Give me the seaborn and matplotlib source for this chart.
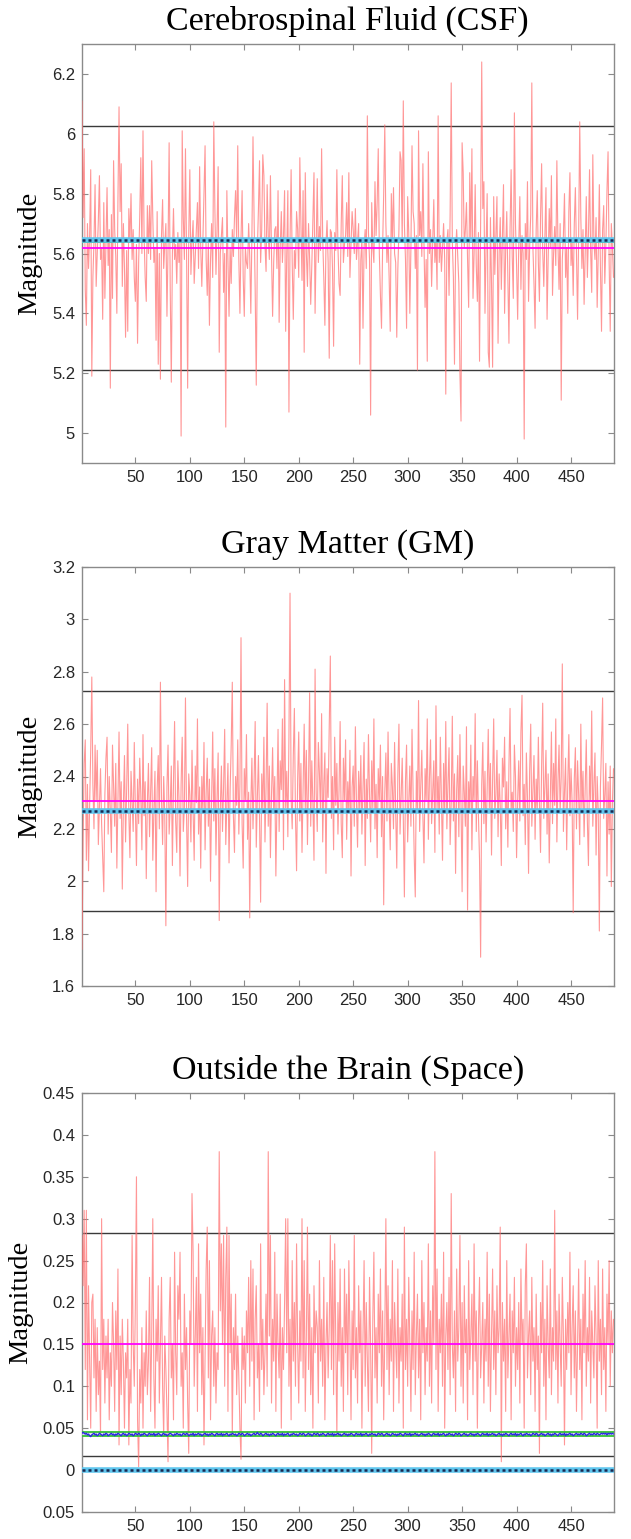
import numpy as np
import pandas as pd
import matplotlib
matplotlib.use("Agg")
import matplotlib.pyplot as plt
import seaborn as sns
from matplotlib.ticker import FixedLocator, FixedFormatter

# ---------------- data ----------------
csf_values = [
6.11,5.72,5.95,5.48,5.36,5.70,5.55,5.66,5.88,5.19,
5.52,5.64,5.83,5.49,5.60,5.71,5.86,5.58,5.62,5.38,
5.77,5.45,5.63,5.82,5.56,5.68,5.15,5.73,5.45,5.91,
5.68,5.59,5.40,5.78,6.09,5.74,5.90,5.49,5.70,5.55,
5.32,5.61,5.34,5.75,5.64,5.80,5.58,5.68,5.52,5.44,
5.63,5.30,5.57,5.72,5.92,5.60,6.01,5.66,5.52,5.44,
5.76,5.60,5.76,5.58,5.91,5.72,5.57,5.62,5.31,5.74,
5.23,5.60,5.18,5.66,5.78,5.55,5.63,5.70,5.39,5.62,
5.97,5.48,5.17,5.60,5.75,5.58,5.63,5.50,5.67,5.57,
5.64,4.99,6.01,5.72,5.58,5.95,5.60,5.15,5.66,5.88,
5.53,5.64,5.71,5.50,5.59,5.68,5.77,5.55,5.89,5.62,
5.49,5.64,5.80,5.96,5.58,5.46,5.64,5.36,5.58,5.70,
5.52,6.04,5.75,5.53,5.68,5.89,5.27,5.60,5.66,5.72,
5.47,5.60,5.02,5.81,5.58,5.39,5.62,5.50,5.68,5.59,
5.72,5.81,5.64,5.96,5.58,5.40,5.65,5.81,5.52,5.39,
5.62,5.57,5.55,5.70,5.59,5.40,5.66,5.99,5.72,5.48,
5.16,5.61,5.75,5.91,5.57,5.68,5.93,5.86,5.63,5.54,
5.83,5.66,5.58,5.86,5.60,5.39,5.57,5.68,5.69,5.55,
5.81,5.37,5.62,5.74,5.57,5.66,5.81,5.34,5.60,5.81,
5.07,5.64,5.88,5.57,5.38,5.61,5.55,5.74,5.68,5.52,
5.92,5.70,5.51,5.81,5.27,5.87,5.60,5.49,5.70,5.58,
5.43,5.56,5.72,5.87,5.40,5.63,5.85,5.57,5.69,5.61,
5.95,5.65,5.52,5.36,5.63,5.71,5.57,5.25,5.68,5.67,
5.55,5.29,5.67,5.61,5.88,5.62,5.50,5.46,5.70,5.86,
5.57,5.63,5.66,5.77,5.59,5.87,5.52,5.63,5.74,5.68,
5.60,5.75,5.58,5.64,5.70,5.23,5.58,5.65,5.35,5.62,
5.68,5.55,6.06,5.67,5.58,5.06,5.77,5.62,5.57,5.84,
5.66,5.77,5.95,5.60,5.46,5.35,5.62,5.80,6.03,5.70,
5.57,5.66,5.52,5.34,5.80,5.64,5.82,5.60,5.57,5.32,
5.55,5.68,5.94,5.91,5.64,6.11,5.70,5.58,5.35,5.79,
5.67,5.40,5.62,5.96,5.74,5.70,5.55,5.66,5.21,6.01,
5.66,5.74,5.59,5.90,5.63,5.42,5.58,5.24,5.94,5.60,
5.68,5.49,5.63,5.78,5.57,5.65,5.48,6.06,5.57,5.66,
5.54,5.62,5.70,5.58,5.13,5.64,5.68,5.46,5.73,6.17,
5.64,5.52,5.23,5.61,5.68,5.59,5.50,5.20,5.04,5.97,
5.87,5.62,5.68,5.77,5.58,5.42,5.87,5.64,5.95,5.45,
5.60,5.83,5.56,5.44,5.67,5.24,5.70,6.24,5.75,5.84,
5.40,5.62,5.80,5.27,5.22,5.72,5.50,5.22,5.79,5.53,
5.66,5.79,5.30,5.60,5.72,5.48,5.66,5.83,5.40,5.61,
5.74,5.52,5.30,5.68,5.88,5.59,5.45,6.07,5.70,5.56,
5.38,5.63,5.79,5.48,5.66,5.60,4.98,5.70,5.58,5.84,
5.44,5.62,5.73,6.17,5.62,5.50,5.35,5.68,5.81,5.57,
5.44,5.72,5.90,5.61,5.49,5.66,5.82,5.38,5.58,5.75,
5.62,5.86,5.46,5.60,5.69,5.56,5.91,5.63,5.48,5.70,
5.11,5.58,5.66,5.80,5.52,5.62,5.40,5.74,5.87,5.56,
5.64,5.46,5.70,5.82,5.59,5.38,5.66,6.04,5.72,5.55,
5.68,5.43,5.60,5.79,5.52,5.66,5.88,5.61,5.47,5.93,
5.64,5.58,5.72,5.42,5.60,5.83,5.55,5.34,5.68,5.76,
5.50,5.63,5.81,5.94,5.57,5.34,5.70,5.62,5.52]

gm_values = [
1.74,2.16,2.45,2.54,2.08,2.37,2.04,2.29,2.50,2.78,
2.37,2.20,2.52,2.31,2.50,2.14,2.28,2.43,2.22,2.09,
1.96,2.33,2.47,2.55,2.18,2.40,2.27,2.11,2.52,2.36,
2.21,2.45,2.05,2.30,2.57,2.24,2.38,1.97,2.29,2.48,
2.15,2.35,2.60,2.26,2.09,2.42,2.31,2.19,2.53,2.28,
2.06,2.39,2.22,2.47,2.33,2.12,2.56,2.25,2.38,2.01,
2.30,2.45,2.17,2.34,2.51,2.08,2.27,2.42,1.96,2.35,
2.48,2.20,2.76,2.31,2.14,2.40,2.25,1.83,2.36,2.52,
2.18,2.29,2.44,2.06,2.38,2.61,2.23,2.11,2.46,2.32,
2.02,2.37,2.55,2.19,2.28,2.70,2.24,1.98,2.41,2.33,
2.15,2.50,2.27,2.08,2.44,2.30,2.62,2.18,2.36,2.05,
2.40,2.26,2.53,2.12,2.34,2.47,2.21,2.39,2.00,2.31,
2.57,2.23,2.43,2.10,2.32,2.49,1.85,2.28,2.44,2.19,
2.36,2.58,2.14,2.30,2.45,2.07,2.35,2.52,2.76,2.25,
2.11,2.40,2.29,2.54,2.18,2.37,2.93,2.22,2.05,2.43,
2.31,2.56,2.16,2.34,1.86,2.29,2.47,2.20,2.38,2.61,
2.13,2.32,2.48,2.24,1.92,2.41,2.27,2.55,2.15,2.36,
2.68,2.21,2.44,2.09,2.33,2.51,2.26,2.40,2.02,2.30,
2.58,2.19,2.46,2.35,2.62,2.12,2.77,2.28,2.42,2.17,
2.55,3.10,2.32,2.20,2.48,2.66,2.25,2.04,2.39,2.57,
2.23,2.45,2.11,2.36,2.60,2.27,2.50,2.14,2.38,2.72,
2.21,2.46,2.30,2.08,2.81,2.34,2.19,2.53,2.41,2.26,
2.64,2.15,2.37,2.49,2.03,2.43,2.32,2.58,2.86,2.24,
2.40,2.12,2.55,2.29,2.45,2.18,2.35,2.61,2.22,2.09,
2.47,2.31,2.54,2.16,2.38,2.26,2.50,2.02,2.36,2.44,
2.21,2.59,2.30,2.13,2.42,2.27,2.48,2.18,2.35,2.53,
2.06,2.39,2.24,2.56,2.33,2.15,2.46,2.28,2.62,2.20,
2.37,2.09,2.43,2.31,2.52,2.17,2.40,1.91,2.34,2.49,
2.23,2.57,2.29,2.12,2.45,2.36,2.20,2.53,2.27,2.05,
2.41,2.60,2.18,2.33,2.47,2.24,1.94,2.38,2.52,2.15,
2.30,2.44,2.21,2.58,2.35,2.10,1.94,2.42,2.27,2.69,
2.19,2.36,2.50,2.25,2.07,2.43,2.31,2.62,2.16,2.39,
2.54,2.22,2.34,2.46,2.11,2.67,2.28,2.40,2.18,2.55,
2.32,2.08,2.45,2.26,2.61,2.20,2.37,2.51,2.14,2.30,
2.63,2.23,2.41,2.03,2.35,2.48,2.17,2.56,2.29,1.96,
2.44,2.34,2.21,2.59,1.89,2.38,2.27,2.52,2.12,2.40,
2.31,2.64,2.19,2.46,2.25,2.08,1.71,2.37,2.53,2.22,
2.42,2.15,2.35,2.58,2.28,2.45,2.10,2.39,2.62,2.24,
2.33,2.50,2.17,2.41,2.29,2.06,2.47,2.36,2.55,2.20,
2.38,2.13,2.44,2.66,2.27,2.34,2.19,2.52,2.40,2.09,
2.31,2.46,2.23,2.57,2.71,2.25,2.37,2.14,2.49,2.32,
2.03,2.42,2.60,2.21,2.35,2.48,2.16,2.39,2.27,2.55,
2.30,2.11,2.44,2.68,2.24,2.36,2.50,2.18,2.41,2.07,
2.33,2.57,2.22,2.45,2.29,2.62,2.15,2.38,2.52,2.26,
2.40,2.83,2.19,2.34,2.47,2.12,2.37,2.56,2.25,2.43,
2.30,1.88,2.39,2.51,2.20,2.46,2.33,2.14,2.60,2.28,
2.42,2.17,2.35,2.54,2.23,2.06,2.44,2.31,2.65,2.21,
2.37,2.49,2.10,2.40,2.27,1.81,2.36,2.52,2.70,2.24,
2.33,2.45,2.02,2.38,2.18,2.44,1.98,2.30,2.43]

space_values = [
0.28,0.22,0.31,0.12,0.31,0.06,0.22,0.13,0.05,0.20,
0.21,0.11,0.18,0.07,0.17,0.09,0.13,0.04,0.30,0.12,
0.18,0.08,0.16,0.11,0.18,0.06,0.14,0.10,0.20,0.15,
0.07,0.19,0.12,0.24,0.03,0.16,0.09,0.18,0.13,0.05,
0.14,0.11,0.18,0.03,0.12,0.08,0.28,0.15,0.10,0.20,
0.35,0.06,0.004,0.12,0.08,0.17,0.05,0.14,0.10,0.19,
0.09,0.13,0.23,0.07,0.16,0.30,0.11,0.05,0.18,0.13,
0.22,0.08,0.15,0.23,0.10,0.04,0.16,0.12,0.07,0.01,
0.18,0.23,0.11,0.15,0.06,0.26,0.14,0.09,0.22,0.18,
0.26,0.10,0.14,0.05,0.21,0.12,0.17,0.08,0.02,0.19,
0.15,0.33,0.26,0.10,0.16,0.23,0.07,0.27,0.14,0.21,
0.09,0.17,0.03,0.13,0.24,0.29,0.11,0.25,0.06,0.16,
0.19,0.10,0.17,0.08,0.14,0.12,0.38,0.19,0.27,0.15,
0.28,0.10,0.23,0.29,0.07,0.28,0.14,0.21,0.04,0.17,
0.12,0.21,0.09,0.16,0.11,0.05,0.013,0.17,0.12,0.16,
0.08,0.19,0.14,0.23,0.10,0.25,0.13,0.24,0.06,0.18,
0.22,0.11,0.15,0.07,0.27,0.12,0.18,0.09,0.14,0.21,
0.10,0.38,0.16,0.28,0.08,0.18,0.13,0.26,0.07,0.21,
0.15,0.11,0.21,0.05,0.17,0.12,0.20,0.30,0.14,0.30,
0.10,0.18,0.06,0.25,0.13,0.20,0.10,0.27,0.15,0.08,
0.19,0.13,0.30,0.11,0.25,0.07,0.16,0.29,0.12,0.21,
0.09,0.17,0.05,0.22,0.14,0.19,0.17,0.08,0.25,0.13,
0.18,0.10,0.23,0.06,0.15,0.20,0.11,0.17,0.28,0.12,
0.25,0.09,0.27,0.15,0.04,0.20,0.13,0.24,0.10,0.17,
0.07,0.24,0.14,0.21,0.09,0.25,0.16,0.06,0.19,0.12,
0.28,0.11,0.17,0.08,0.22,0.14,0.19,0.05,0.16,0.25,
0.10,0.20,0.13,0.07,0.23,0.15,0.02,0.18,0.26,0.11,
0.17,0.08,0.21,0.14,0.24,0.10,0.19,0.06,0.16,0.30,
0.12,0.22,0.09,0.18,0.13,0.25,0.07,0.20,0.15,0.11,
0.24,0.08,0.17,0.13,0.21,0.05,0.29,0.12,0.18,0.10,
0.23,0.15,0.07,0.19,0.12,0.26,0.09,0.16,0.21,0.11,
0.18,0.06,0.25,0.14,0.20,0.09,0.17,0.13,0.27,0.10,
0.19,0.08,0.22,0.15,0.38,0.12,0.24,0.07,0.18,0.14,
0.21,0.10,0.26,0.05,0.16,0.20,0.12,0.23,0.09,0.33,
0.15,0.11,0.19,0.07,0.24,0.13,0.17,0.28,0.10,0.20,
0.08,0.22,0.14,0.18,0.06,0.25,0.12,0.16,0.21,0.09,
0.27,0.13,0.19,0.05,0.17,0.23,0.11,0.15,0.20,0.08,
0.18,0.13,0.26,0.10,0.21,0.07,0.16,0.24,0.12,0.19,
0.09,0.22,0.14,0.17,0.29,0.01,0.20,0.13,0.18,0.07,
0.25,0.11,0.16,0.21,0.06,0.19,0.14,0.23,0.10,0.17,
0.12,0.20,0.08,0.24,0.15,0.18,0.05,0.22,0.27,0.11,
0.16,0.19,0.09,0.23,0.13,0.17,0.07,0.21,0.12,0.16,
0.02,0.20,0.14,0.25,0.10,0.18,0.06,0.22,0.15,0.11,
0.24,0.09,0.17,0.13,0.31,0.12,0.19,0.08,0.21,0.15,
0.10,0.23,0.16,0.03,0.18,0.12,0.20,0.14,0.26,0.09,
0.17,0.22,0.11,0.19,0.07,0.15,0.24,0.12,0.18,0.06,
0.21,0.14,0.25,0.10,0.17,0.13,0.23,0.08,0.19,0.15,
0.11,0.22,0.16,0.05,0.25,0.13,0.18,0.09,0.24,0.12,
0.17,0.07,0.21,0.15,0.25,0.10,0.19,0.14,0.18]

space_blue = [
0.044,0.045,0.044,0.043,0.044,0.042,0.043,0.041,0.040,0.042,
0.043,0.044,0.042,0.043,0.041,0.042,0.044,0.043,0.042,0.041,
0.043,0.042,0.044,0.043,0.041,0.042,0.043,0.044,0.042,0.043,
0.041,0.043,0.042,0.044,0.043,0.042,0.041,0.043,0.044,0.042,
0.043,0.041,0.042,0.044,0.043,0.042,0.043,0.041,0.042,0.044,
0.043,0.042,0.044,0.043,0.041,0.043,0.042,0.044,0.043,0.042,
0.041,0.043,0.044,0.042,0.043,0.042,0.044,0.041,0.043,0.042,
0.044,0.043,0.042,0.041,0.043,0.044,0.042,0.043,0.041,0.042,
0.043,0.044,0.043,0.042,0.041,0.043,0.042,0.044,0.043,0.042,
0.043,0.041,0.042,0.044,0.043,0.042,0.044,0.043,0.041,0.042,
0.043,0.042,0.044,0.041,0.043,0.042,0.043,0.044,0.042,0.043,
0.041,0.042,0.043,0.044,0.042,0.043,0.041,0.043,0.042,0.044,
0.043,0.042,0.041,0.043,0.044,0.042,0.043,0.042,0.044,0.041,
0.043,0.042,0.043,0.044,0.042,0.041,0.043,0.042,0.044,0.043,
0.042,0.043,0.041,0.042,0.044,0.043,0.042,0.044,0.043,0.041,
0.042,0.043,0.044,0.042,0.043,0.041,0.042,0.043,0.044,0.042,
0.043,0.045,0.043,0.042,0.044,0.043,0.041,0.042,0.043,0.044,
0.042,0.043,0.041,0.043,0.042,0.044,0.043,0.042,0.041,0.043,
0.044,0.042,0.043,0.042,0.044,0.041,0.043,0.042,0.043,0.044,
0.042,0.041,0.043,0.042,0.044,0.043,0.042,0.043,0.041,0.042,
0.044,0.043,0.042,0.044,0.043,0.041,0.042,0.043,0.044,0.042,
0.043,0.041,0.042,0.044,0.043,0.042,0.044,0.043,0.041,0.043,
0.042,0.044,0.043,0.042,0.041,0.043,0.044,0.042,0.043,0.042,
0.044,0.041,0.043,0.042,0.043,0.044,0.042,0.043,0.041,0.042,
0.043,0.044,0.042,0.043,0.041,0.043,0.042,0.044,0.043,0.042,
0.041,0.043,0.044,0.042,0.043,0.042,0.044,0.041,0.043,0.042,
0.043,0.044,0.042,0.041,0.043,0.042,0.044,0.043,0.042,0.043,
0.041,0.042,0.044,0.043,0.042,0.044,0.043,0.041,0.042,0.043,
0.044,0.042,0.043,0.041,0.042,0.044,0.043,0.042,0.043,0.041,
0.043,0.042,0.044,0.043,0.042,0.041,0.043,0.044,0.042,0.043,
0.042,0.044,0.041,0.043,0.042,0.043,0.044,0.042,0.043,0.041,
0.042,0.043,0.044,0.042,0.043,0.041,0.043,0.042,0.044,0.043,
0.042,0.041,0.043,0.044,0.042,0.043,0.042,0.044,0.041,0.043,
0.042,0.043,0.044,0.042,0.041,0.043,0.042,0.044,0.043,0.042,
0.043,0.041,0.042,0.044,0.043,0.042,0.044,0.043,0.041,0.042,
0.043,0.044,0.042,0.043,0.041,0.042,0.043,0.044,0.042,0.043,
0.041,0.043,0.042,0.044,0.043,0.042,0.041,0.043,0.044,0.042,
0.043,0.042,0.044,0.041,0.043,0.042,0.043,0.044,0.042,0.043,
0.041,0.042,0.043,0.044,0.042,0.043,0.041,0.043,0.042,0.044,
0.043,0.042,0.041,0.043,0.044,0.042,0.043,0.042,0.044,0.041,
0.043,0.042,0.043,0.044,0.042,0.041,0.043,0.042,0.044,0.043,
0.042,0.043,0.041,0.042,0.044,0.043,0.042,0.044,0.043,0.041,
0.042,0.043,0.044,0.042,0.043,0.041,0.042,0.043,0.044,0.042,
0.043,0.041,0.043,0.042,0.044,0.043,0.042,0.041,0.043,0.044,
0.042,0.043,0.042,0.044,0.041,0.043,0.042,0.043,0.044,0.042,
0.043,0.041,0.042,0.043,0.044,0.042,0.043,0.042,0.044,0.043,
0.042,0.044,0.043,0.041,0.042,0.043,0.044,0.042,0.043,0.042,
0.044,0.043,0.042,0.044,0.043,0.042,0.043,0.044,0.043,0.044,
0.043,0.044,0.042,0.044,0.043,0.044,0.043,0.044,0.043]

titles = ["Cerebrospinal Fluid (CSF)", "Gray Matter (GM)", "Outside the Brain (Space)"]

# reference levels per panel
magenta_level = [5.619, 2.307, 0.150]
black_upper = [6.027, 2.727, 0.2825]
black_lower = [5.211, 1.887, 0.0165]
cyan_level = [5.645, 2.270, 0.000]
green_level = [5.637, 2.263, None]
space_green_band = [0.0403, 0.0455]

ylims = [(4.9, 6.3), (1.6, 3.2), (-0.05, 0.45)]
yticks = [[5.0, 5.2, 5.4, 5.6, 5.8, 6.0, 6.2],
          [1.6, 1.8, 2.0, 2.2, 2.4, 2.6, 2.8, 3.0, 3.2],
          [-0.05, 0.0, 0.05, 0.1, 0.15, 0.2, 0.25, 0.3, 0.35, 0.4, 0.45]]
ytick_labels = [["5", "5.2", "5.4", "5.6", "5.8", "6", "6.2"],
                ["1.6", "1.8", "2", "2.2", "2.4", "2.6", "2.8", "3", "3.2"],
                ["0.05", "0", "0.05", "0.1", "0.15", "0.2", "0.25", "0.3", "0.35", "0.4", "0.45"]]
xticks = [50, 100, 150, 200, 250, 300, 350, 400, 450]
xlim = (1, 489)

# ---------------- plot ----------------
sns.set_theme(style="ticks")
plt.rcParams['font.family'] = ['Liberation Sans', 'DejaVu Sans']

W, H = 631, 1539
fig = plt.figure(figsize=(W / 100, H / 100), dpi=100)

axes_px = [(44, 463), (567, 986), (1093, 1512)]
left_px, right_px = 82, 613.5

series = [csf_values, gm_values, space_values]
red = (1.0, 0.42, 0.42)
edge = '#8a8a8a'

for i in range(3):
    top, bot = axes_px[i]
    ax = fig.add_axes([left_px / W, 1 - bot / H, (right_px - left_px) / W, (bot - top) / H])
    vals = series[i]
    df = pd.DataFrame({"x": np.arange(1, len(vals) + 1), "y": vals})

    ax.axhline(black_upper[i], color='#3a3a3a', lw=1.0, zorder=2)
    ax.axhline(black_lower[i], color='#3a3a3a', lw=1.0, zorder=2)

    sns.lineplot(data=df, x="x", y="y", ax=ax, color=red, lw=0.8, alpha=0.7,
                 estimator=None, errorbar=None, zorder=3)

    ax.axhline(magenta_level[i], color='#ff00ff', lw=1.3, zorder=5)
    if green_level[i] is not None:
        ax.axhline(green_level[i], color='#2ca02c', lw=1.3, zorder=5)
    ax.axhline(cyan_level[i], color='#5fc6ee', lw=4.0, zorder=6)
    ax.axhline(cyan_level[i], color='#1b2750', lw=1.8, ls=(0, (1.2, 1.2)), zorder=7)

    if i == 2:
        ax.axhspan(space_green_band[0], space_green_band[1], color='#d8c8f0', alpha=0.6, zorder=4, lw=0)
        ax.axhline(space_green_band[0], color='#35c335', lw=1.3, zorder=5)
        ax.axhline(space_green_band[1], color='#35c335', lw=1.3, zorder=5)
        dfb = pd.DataFrame({"x": np.arange(1, len(space_blue) + 1), "y": space_blue})
        sns.lineplot(data=dfb, x="x", y="y", ax=ax, color='#2a2ae0', lw=1.0,
                     estimator=None, errorbar=None, zorder=6)

    ax.set_xlim(*xlim)
    ax.set_ylim(*ylims[i])
    ax.xaxis.set_major_locator(FixedLocator(xticks))
    ax.xaxis.set_major_formatter(FixedFormatter([str(t) for t in xticks]))
    ax.yaxis.set_major_locator(FixedLocator(yticks[i]))
    ax.yaxis.set_major_formatter(FixedFormatter(ytick_labels[i]))

    ax.tick_params(axis='both', which='major', direction='in', length=4, width=0.8,
                   colors=edge, labelcolor='#262626', labelsize=12,
                   top=True, right=True, pad=5)
    for sp in ax.spines.values():
        sp.set_visible(True)
        sp.set_color(edge)
        sp.set_linewidth(1.0)

    ax.set_xlabel("")
    ax.set_ylabel("Magnitude", fontsize=20.5, family=['Liberation Serif', 'DejaVu Serif'],
                  labelpad=7, color='black')
    ax.set_title(titles[i], fontsize=24.5, family=['Liberation Serif', 'DejaVu Serif'],
                 pad=10, color='black')

fig.savefig("out.png", dpi=100)
